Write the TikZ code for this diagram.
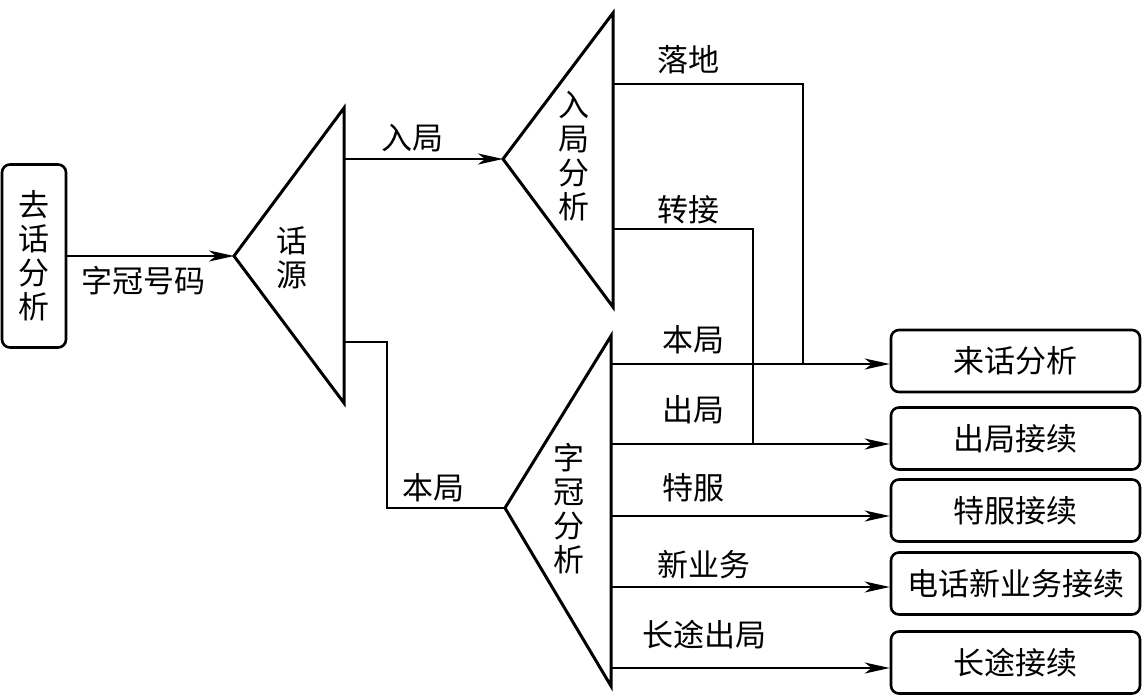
\documentclass[tikz,border=0pt]{standalone}
\usepackage{fontspec}
\newfontfamily\cjk{Noto Sans CJK SC}
\usetikzlibrary{arrows.meta}
\newcommand\myfs{\cjk\fontsize{31}{34}\selectfont}
\begin{document}
\begin{tikzpicture}[x=1pt,y=-1pt,
  tri/.style={line width=3pt, line join=miter},
  conn/.style={line width=2.2pt},
  arr/.style={conn, -{Stealth[length=25pt,width=11pt,inset=7pt]}},
  box/.style={draw, line width=2.6pt, rounded corners=8pt, minimum width=249pt, minimum height=62pt, font=\myfs, inner sep=0pt},
  lbl/.style={font=\myfs, inner sep=0pt, align=center}]
\useasboundingbox (0,0) rectangle (1144,696);

% left box
\node[box, minimum width=64pt, minimum height=183pt, align=center] (qh) at (34,256) {去\\话\\分\\析};

% triangle 话源
\coordinate (hyA) at (234,256);
\coordinate (hyT) at (344,108);
\coordinate (hyB) at (344,403);
\draw[tri] (hyA) -- (hyT) -- (hyB) -- cycle;
\node[lbl] (hy) at (292,258) {话\\源};

\draw[arr] (qh.east) -- (hyA);
\node[lbl] (l0) at (143,281) {字冠号码};

% triangle 入局分析
\coordinate (rjA) at (503,159);
\coordinate (rjT) at (613,13);
\coordinate (rjB) at (613,307);
\draw[tri] (rjA) -- (rjT) -- (rjB) -- cycle;
\node[lbl] (rj) at (574,156) {入\\局\\分\\析};

\coordinate (hyo1) at (344,159);
\draw[arr] (hyo1) -- (rjA);
\node[lbl] (l1) at (412,138) {入局};

% triangle 字冠分析
\coordinate (zgA) at (505,508);
\coordinate (zgT) at (611,336);
\coordinate (zgB) at (611,686);
\draw[tri] (zgA) -- (zgT) -- (zgB) -- cycle;
\node[lbl] (zg) at (569,509) {字\\冠\\分\\析};

\coordinate (hyo2) at (344,342);
\draw[conn] (hyo2) -- (387,342) -- (387,508) -- (zgA);
\node[lbl] (l2) at (433,488) {本局};

% right boxes
\node[box] (b1) at (1015.5,361) {来话分析};
\node[box] (b2) at (1015.5,438.5) {出局接续};
\node[box] (b3) at (1015.5,510.5) {特服接续};
\node[box] (b4) at (1015.5,583.5) {电话新业务接续};
\node[box] (b5) at (1015.5,662.5) {长途接续};

% outputs of 字冠分析
\coordinate (z1) at (611,364);
\coordinate (z2) at (611,444);
\coordinate (z3) at (611,516);
\coordinate (z4) at (611,587);
\coordinate (z5) at (611,668);
\draw[arr] (z1) -- (z1 -| b1.west);
\draw[arr] (z2) -- (z2 -| b2.west);
\draw[arr] (z3) -- (z3 -| b3.west);
\draw[arr] (z4) -- (z4 -| b4.west);
\draw[arr] (z5) -- (z5 -| b5.west);
\node[lbl] (l3) at (693,340) {本局};
\node[lbl] (l4) at (693,410) {出局};
\node[lbl] (l5) at (693,488) {特服};
\node[lbl] (l6) at (704,565) {新业务};
\node[lbl] (l7) at (704,635) {长途出局};

% outputs of 入局分析
\coordinate (r1) at (613,84);
\coordinate (r2) at (613,229);
\coordinate (j1) at (803,364);
\coordinate (j2) at (753,444);
\draw[conn] (r1) -- (r1 -| j1) -- (j1);
\draw[conn] (r2) -- (r2 -| j2) -- (j2);
\node[lbl] (l8) at (688,60) {落地};
\node[lbl] (l9) at (688,210) {转接};
\end{tikzpicture}
\end{document}
